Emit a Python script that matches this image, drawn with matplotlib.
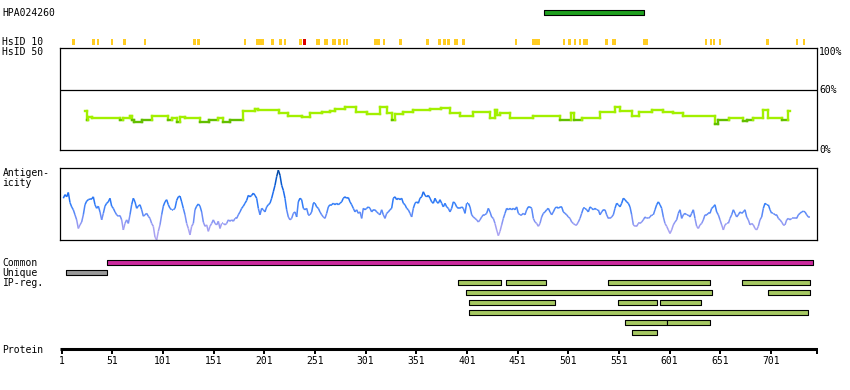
import numpy as np
import matplotlib
matplotlib.use("Agg")
import matplotlib.pyplot as plt
from matplotlib.collections import LineCollection
from matplotlib.colors import LinearSegmentedColormap

# ---------------- data ----------------
antibody_name = "HPA024260"
protein_length = 746
hpa_start, hpa_end = 477, 576

hsid_start = [11, 31, 36, 50, 62, 82, 131, 135, 181, 193, 208, 216, 221, 235,
              252, 260, 268, 274, 279, 282, 309, 318, 334, 361, 372, 377, 381,
              388, 396, 448, 465, 496, 501, 507, 512, 516, 537, 544, 575, 636,
              641, 644, 650, 696, 726, 733]
hsid_end = [14, 34, 38, 52, 65, 84, 134, 138, 183, 201, 211, 219, 223, 238,
            256, 264, 272, 277, 281, 284, 315, 320, 337, 364, 375, 380, 384,
            392, 399, 450, 473, 498, 504, 509, 514, 520, 540, 548, 580, 638,
            643, 646, 652, 699, 728, 735]
hsid_red_start = [239]
hsid_red_end = [242]

identity_breaks = [24, 26, 27, 31, 59, 62, 69, 71, 73, 80, 90, 106, 110, 115,
                   118, 123, 138, 147, 155, 160, 167, 180, 192, 195, 216, 224,
                   238, 246, 258, 266, 271, 281, 292, 302, 315, 322, 327, 330,
                   338, 348, 365, 375, 384, 394, 407, 424, 429, 431, 434, 444,
                   466, 493, 504, 507, 515, 532, 547, 552, 564, 571, 584, 594,
                   604, 614, 646, 649, 660, 673, 677, 683, 693, 698, 712, 718,
                   720]
identity_values = [39, 30, 33.5, 32.5, 30, 32.5, 34, 30, 28, 30, 34, 30, 32.5,
                   28, 33, 32.5, 28, 30, 32.5, 28, 30, 39, 41.5, 40, 37, 34,
                   33, 37, 38, 39, 41.5, 43.5, 38.5, 36, 43.5, 37, 30, 36,
                   38.5, 40, 41.5, 42.5, 37, 34, 38.5, 32.5, 40, 35, 37, 32.5,
                   34, 30, 37, 30, 32.5, 38.5, 43, 39, 34, 38.5, 40, 38, 37,
                   34, 26, 30, 32.5, 29, 30, 32.5, 40, 32.5, 30, 39]

antigen_first_residue = 2.8
antigen_residue_step = 1.6445
antigen_part1 = [58, 63, 60, 66, 52, 46, 42, 35, 28, 16,
                 21, 25, 35, 49, 54, 56, 57, 57, 60, 49,
                 44, 47, 39, 28, 37, 47, 51, 53, 58, 47,
                 44, 39, 35, 33, 34, 28, 14, 23, 28, 23,
                 35, 49, 58, 53, 44, 47, 49, 42, 33, 35,
                 37, 33, 30, 23, 19, 4, 0, 12, 21, 35,
                 47, 53, 56, 49, 44, 42, 42, 44, 55, 60,
                 61, 53, 44, 35, 23, 16, 7, 19, 23, 42,
                 47, 50, 47, 39, 25, 19, 21, 12, 19, 23,
                 28, 23, 21, 26, 16, 23, 23, 21, 23, 28,
                 26, 28, 26, 30, 30, 35, 39, 44, 47, 51,
                 55, 62, 60]
antigen_part2 = [62, 65, 62, 58, 44, 35, 44, 42, 39, 46,
                 49, 51, 58, 67, 76, 88, 97, 90, 76, 69,
                 58, 42, 32, 28, 30, 37, 39, 32, 53, 58,
                 56, 44, 42, 44, 35, 35, 39, 51, 51, 46,
                 44, 39, 35, 32, 30, 37, 46, 49, 49, 51,
                 49, 51, 49, 51, 53, 58, 60, 58, 59, 53,
                 49, 44, 39, 42, 37, 39, 30, 44, 42, 44,
                 46, 44, 39, 42, 42, 39, 37, 35, 42, 35,
                 30, 37, 39, 42, 44, 58, 60, 56, 58, 56,
                 58, 51, 49, 44, 42, 37, 32, 44, 51, 53,
                 51, 58, 60, 67, 62, 60, 62, 58, 53, 51,
                 58, 53, 51]
antigen_part3 = [56, 51, 46, 51, 46, 44, 39, 44, 53, 51,
                 46, 44, 44, 46, 44, 37, 51, 51, 46, 35,
                 32, 30, 28, 25, 28, 32, 35, 35, 37, 44,
                 39, 32, 30, 23, 14, 6, 12, 21, 30, 37,
                 44, 42, 44, 42, 44, 42, 46, 37, 35, 35,
                 37, 35, 42, 46, 46, 44, 30, 25, 23, 19,
                 23, 32, 37, 39, 42, 44, 39, 35, 39, 44,
                 46, 44, 46, 46, 39, 37, 35, 32, 30, 25,
                 23, 21, 21, 25, 30, 37, 44, 44, 42, 39,
                 46, 44, 42, 44, 42, 42, 35, 39, 42, 42,
                 35, 30, 30, 32, 35, 44, 51, 49, 46, 51,
                 58, 56, 53]
antigen_part4 = [51, 46, 35, 21, 19, 19, 23, 23, 25, 28,
                 32, 30, 30, 32, 35, 35, 42, 49, 53, 49,
                 44, 32, 23, 19, 14, 9, 14, 21, 25, 28,
                 37, 42, 30, 35, 37, 35, 35, 32, 37, 42,
                 30, 19, 16, 21, 23, 28, 35, 35, 37, 37,
                 44, 46, 49, 39, 35, 28, 21, 14, 21, 23,
                 23, 30, 35, 42, 37, 32, 35, 39, 37, 39,
                 42, 32, 28, 21, 23, 21, 16, 14, 19, 28,
                 32, 44, 51, 49, 49, 42, 37, 37, 35, 35,
                 30, 28, 25, 21, 21, 28, 30, 28, 30, 30,
                 30, 30, 35, 37, 39, 40, 39, 35, 32, 32]

common_start, common_end = 46, 742
unique_start, unique_end = 5, 46
ip_row = [0, 0, 0, 0, 1, 1, 2, 2, 2, 3, 4, 4, 5]
ip_start = [392, 440, 540, 672, 400, 698, 403, 550, 592, 403, 557, 598, 564]
ip_end = [435, 479, 641, 740, 643, 740, 488, 589, 632, 738, 598, 641, 589]

tick_residues = [1, 51, 101, 151, 201, 251, 301, 351, 401, 451, 501, 551,
                 601, 651, 701]

# ---------------- style ----------------
W, H = 850, 390
FONT = dict(family="DejaVu Sans Mono", fontsize=7, color="black")
YELLOW = "#FFCC22"
RED = "#DD0000"
ID_LIGHT = "#A2F000"
ID_DARK = "#62BE00"


def px2res(p):
    return (p - 61.5) / 1.0135 + 1


def fx(p):
    return p / W


def fy(p):
    return 1 - p / H


fig = plt.figure(figsize=(W / 100, H / 100), dpi=100)
fig.patch.set_facecolor("white")

# full-figure track axes (x in residues, y in pixel rows)
ax = fig.add_axes([0, 0, 1, 1])
ax.set_xlim(px2res(0), px2res(W))
ax.set_ylim(H, 0)
ax.axis("off")

# HPA antigen bar
ax.broken_barh([(hpa_start, hpa_end - hpa_start)], (10, 5),
               facecolors="#1FA01F", edgecolors="black", linewidth=0.8)

# HsID 10 marks
ax.broken_barh([(s, e - s) for s, e in zip(hsid_start, hsid_end)], (39, 6),
               facecolors=YELLOW, edgecolors="none")
ax.broken_barh([(s, e - s) for s, e in zip(hsid_red_start, hsid_red_end)],
               (39, 6), facecolors=RED, edgecolors="none")

# Common / Unique
ax.broken_barh([(common_start, common_end - common_start)], (260, 5),
               facecolors="#CC2A9E", edgecolors="black", linewidth=0.8)
ax.broken_barh([(unique_start, unique_end - unique_start)], (270, 5),
               facecolors="#999999", edgecolors="black", linewidth=0.8)

# IP regions
for r, s, e in zip(ip_row, ip_start, ip_end):
    ax.broken_barh([(s, e - s)], (280 + 10 * r, 5),
                   facecolors="#A6C862", edgecolors="black", linewidth=0.8)

# Protein axis
ax.hlines(349, px2res(60), px2res(817), color="black", linewidth=2.2)
ax.vlines(tick_residues + [protein_length], 348, 353.5, color="black",
          linewidth=1.4)
for t in tick_residues:
    ax.text(t, 361, str(t), ha="center", va="center", **FONT)

# ---------------- identity panel ----------------
axi = fig.add_axes([fx(60), fy(150), 757 / W, 102 / H])
axi.set_xlim(px2res(60), px2res(817))
axi.set_ylim(0, 102.5)
axi.set_xticks([])
axi.set_yticks([])
for sp in axi.spines.values():
    sp.set_linewidth(0.9)
axi.axhline(60, color="black", linewidth=0.9)

segs, cols = [], []
b = identity_breaks
v = identity_values
for i in range(len(v)):
    segs.append([(b[i], v[i]), (b[i + 1], v[i])])
    cols.append(ID_DARK if v[i] <= 30.5 else ID_LIGHT)
    if i + 1 < len(v):
        segs.append([(b[i + 1], v[i]), (b[i + 1], v[i + 1])])
        cols.append(ID_LIGHT if max(v[i], v[i + 1]) > 30.5 else ID_DARK)
axi.add_collection(LineCollection(segs, colors=cols, linewidths=1.7,
                                  capstyle="projecting"))

# ---------------- antigenicity panel ----------------
axa = fig.add_axes([fx(60), fy(240), 757 / W, 72 / H])
axa.set_xlim(px2res(60), px2res(817))
axa.set_ylim(0, 100)
axa.set_xticks([])
axa.set_yticks([])
for sp in axa.spines.values():
    sp.set_linewidth(0.9)

ag = np.array(antigen_part1 + antigen_part2 + antigen_part3 + antigen_part4,
              dtype=float)
ag_x = antigen_first_residue + antigen_residue_step * np.arange(len(ag))
cmap = LinearSegmentedColormap.from_list(
    "ag", [(0.0, "#B8AAF2"), (0.2, "#9C9CF2"), (0.33, "#6A8CF6"),
           (0.48, "#3580FA"), (0.65, "#1A6AEE"), (0.85, "#0456C8"),
           (1.0, "#003E8C")])
pts = np.column_stack([ag_x, ag])
aseg = np.stack([pts[:-1], pts[1:]], axis=1)
acol = cmap(np.minimum(ag[:-1], ag[1:]) / 100.0 * 0.5 +
            np.maximum(ag[:-1], ag[1:]) / 100.0 * 0.5)
axa.add_collection(LineCollection(aseg, colors=acol, linewidths=1.1))

# ---------------- labels ----------------
labels = [(antibody_name, 2.5, 13), ("HsID 10", 2.5, 42), ("HsID 50", 2.5, 52),
          ("Antigen-", 2.5, 173), ("icity", 2.5, 183), ("Common", 2.5, 263),
          ("Unique", 2.5, 273), ("IP-reg.", 2.5, 283), ("Protein", 2.5, 350),
          ("100%", 819, 52), ("60%", 819, 90), ("0%", 819, 150)]
for s, x, y in labels:
    fig.text(fx(x), fy(y), s, ha="left", va="center", **FONT)

fig.savefig("out.png", dpi=100)
